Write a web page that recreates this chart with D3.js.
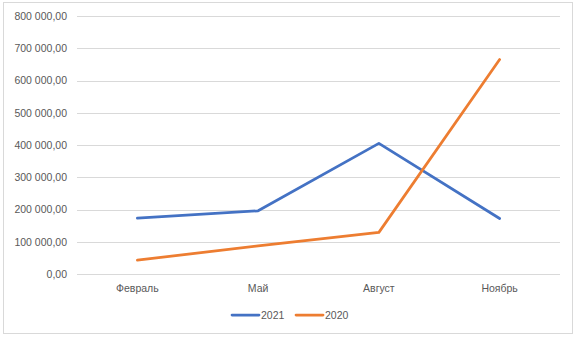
<!DOCTYPE html>
<html><head><meta charset="utf-8">
<script src="https://cdn.jsdelivr.net/npm/d3@7"></script>
<style>html,body{margin:0;padding:0;background:#fff;}svg text{font-family:"Liberation Sans",Arial,sans-serif;}</style>
</head><body><svg id="c" width="577" height="340"></svg>
<script>
const categories = ["Февраль", "Май", "Август", "Ноябрь"];
const seriesNames = ["2021", "2020"];
const values2021 = [173000, 196000, 405000, 172000];
const values2020 = [43000, 87000, 129000, 665000];
const yTicks = [0, 100000, 200000, 300000, 400000, 500000, 600000, 700000, 800000];
const colors = ["#4472C4", "#ED7D31"];

(function () {
const svg = d3.select("#c");
svg.append("rect").attr("x",3.5).attr("y",2.5).attr("width",569).attr("height",331)
  .attr("fill","#fff").attr("stroke","#d9d9d9").attr("stroke-width",1);

const mLeft = 77, mRight = 560, mTop = 16, mBottom = 274;
const x = d3.scaleBand().domain(categories).range([mLeft, mRight]);
const y = d3.scaleLinear().domain([0, 800000]).range([mBottom, mTop]);

const fmt = v => {
  const s = d3.format(",.2f")(v);
  return s.replace(/,/g, " ").replace(".", ",");
};

// grid
svg.append("g").selectAll("line").data(yTicks).join("line")
  .attr("x1", mLeft).attr("x2", mRight)
  .attr("y1", d => Math.round(y(d)) + 0.5).attr("y2", d => Math.round(y(d)) + 0.5)
  .attr("stroke", "#d9d9d9").attr("stroke-width", 1);

// y axis labels
const yAxis = d3.axisLeft(y).tickValues(yTicks).tickFormat(fmt).tickSize(0).tickPadding(10);
const gy = svg.append("g").attr("transform", `translate(${mLeft},0)`).call(yAxis);
gy.select(".domain").remove();
gy.selectAll("text").attr("fill", "#595959").style("font-size", "10.5px")
  .style("font-family", '"Liberation Sans",Arial,sans-serif');

// x axis labels
const xAxis = d3.axisBottom(x).tickSize(0).tickPadding(11);
const gx = svg.append("g").attr("transform", `translate(0,${mBottom})`).call(xAxis);
gx.select(".domain").remove();
gx.selectAll("text").attr("fill", "#595959").style("font-size", "10.5px")
  .style("font-family", '"Liberation Sans",Arial,sans-serif');

const line = d3.line().x((d, i) => x(categories[i]) + x.bandwidth() / 2).y(d => y(d));
[values2021, values2020].forEach((vals, k) => {
  svg.append("path").datum(vals).attr("d", line)
    .attr("fill", "none").attr("stroke", colors[k]).attr("stroke-width", 2.75)
    .attr("stroke-linecap", "round").attr("stroke-linejoin", "round");
});

// legend
const legendX = [232, 296];
seriesNames.forEach((n, k) => {
  const g = svg.append("g").attr("transform", `translate(${legendX[k]},315)`);
  g.append("line").attr("x1", 0).attr("x2", 27).attr("y1", 0).attr("y2", 0)
    .attr("stroke", colors[k]).attr("stroke-width", 2.75).attr("stroke-linecap", "round");
  g.append("text").attr("x", 29).attr("y", 4).attr("fill", "#595959")
    .style("font-size", "10.5px").text(n);
});
})();
</script></body></html>
